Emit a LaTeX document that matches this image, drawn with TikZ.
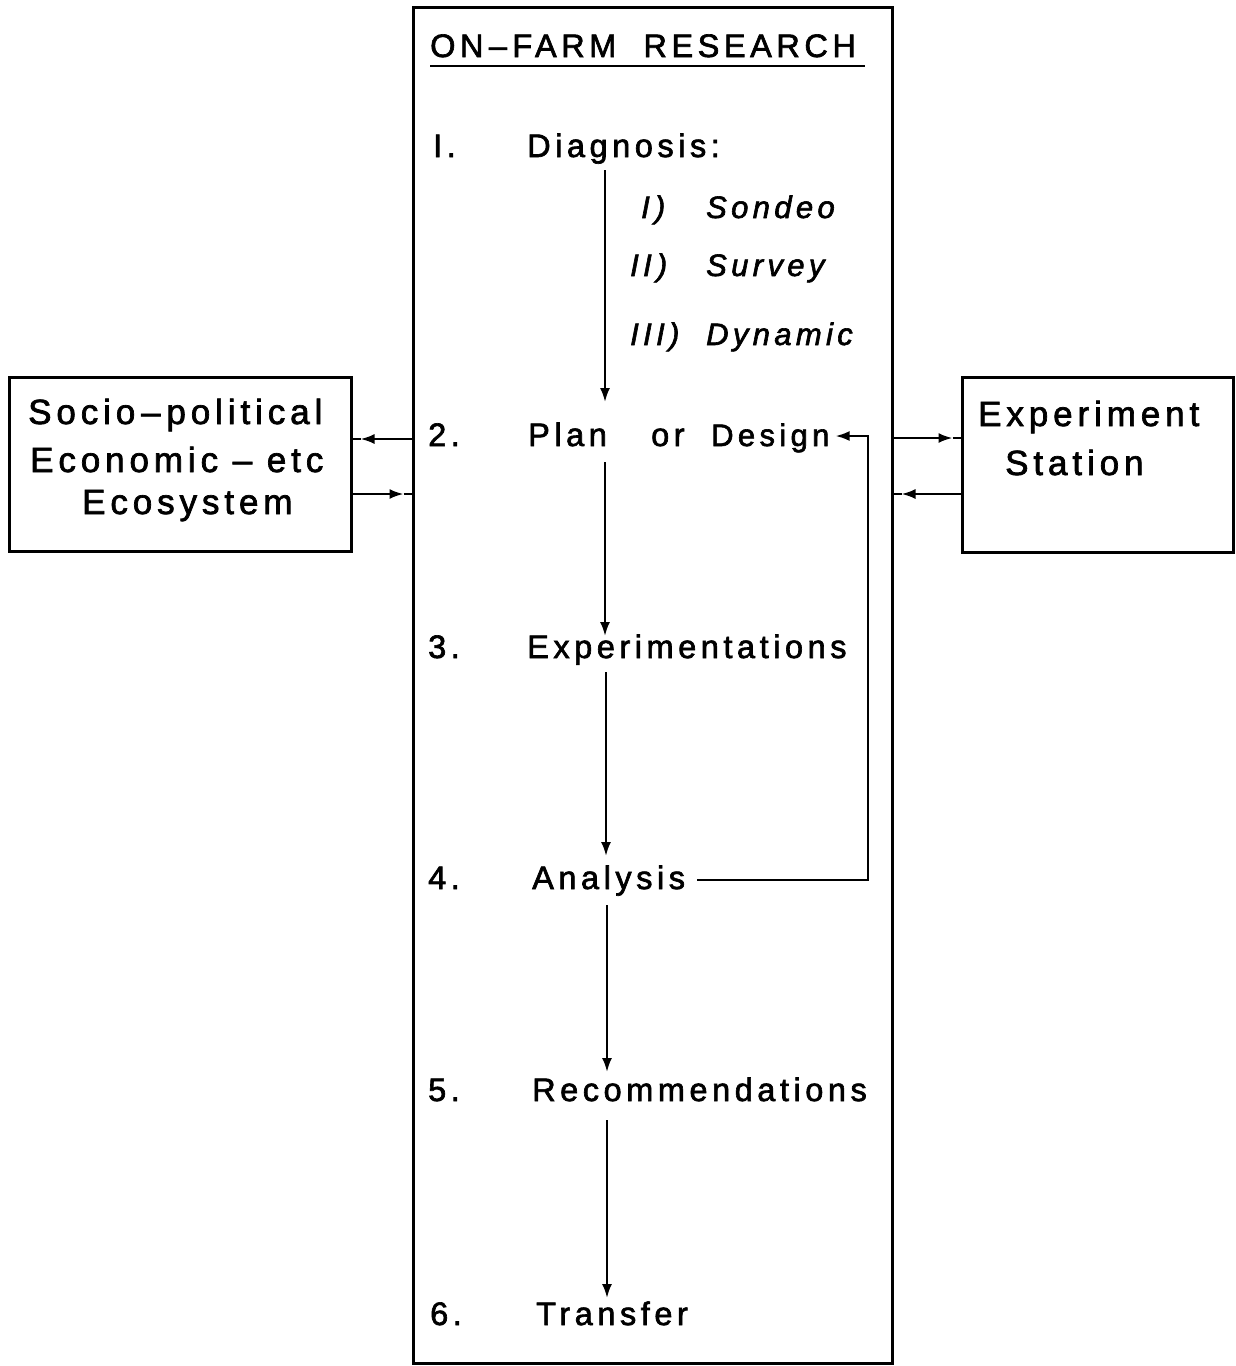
\documentclass[tikz,border=0pt]{standalone}
\usepackage{fontspec}
\setmainfont{Liberation Sans}[LetterSpace=14,FakeBold=2]
\usetikzlibrary{arrows.meta}
\begin{document}
\begin{tikzpicture}[x=1pt,y=-1pt,
  txt/.style={anchor=base west, inner sep=0pt, font=\fontsize{32.5}{38}\selectfont},
  stxt/.style={anchor=base west, inner sep=0pt, font=\fontsize{35}{40}\selectfont},
  itxt/.style={anchor=base west, inner sep=0pt, font=\fontsize{31}{36}\selectfont\itshape},
  box/.style={draw, line width=3pt, inner sep=0pt},
  conn/.style={line width=2.2pt},
  arr/.style={conn, -{Latex[length=14pt,width=10pt]}}]
\useasboundingbox (0,0) rectangle (1235,1366);
% boxes
\node[box, minimum width=479pt, minimum height=1356pt] (main) at (652.5,685) {};
\node[box, minimum width=342pt, minimum height=174pt] (soc) at (180,464) {};
\node[box, minimum width=271pt, minimum height=175pt] (exp) at (1097.5,464.5) {};
% title
\node[txt] (title) at (430,57) {ON\,--\,FARM\ \ RESEARCH};
\draw[conn] (430,66) -- (865,66);
% steps
\node[txt] (n1) at (433,157) {I.};
\node[txt] (diag) at (527,157) {Diagnosis:};
\node[itxt] (r1) at (641,218) {I\,)};
\node[itxt] (sond) at (706,218) {Sondeo};
\node[itxt] (r2) at (630,276) {II\,)};
\node[itxt] (surv) at (706,276) {Survey};
\node[itxt] (r3) at (630,345) {III)};
\node[itxt] (dyn) at (706,345) {Dynamic};
\node[txt] (n2) at (428,446) {2.};
\node[txt] (plan) at (528,446) {Plan};
\node[txt] (or) at (651,446) {or};
\node[txt, font=\fontsize{31}{36}\selectfont] (design) at (711,446) {Design};
\node[txt] (n3) at (428,658) {3.};
\node[txt] (expm) at (527,658) {Experimentations};
\node[txt] (n4) at (428,889) {4.};
\node[txt] (anal) at (532,889) {Analysis};
\node[txt] (n5) at (428,1101) {5.};
\node[txt] (rec) at (532,1101) {Recommendations};
\node[txt] (n6) at (430,1325) {6.};
\node[txt] (tran) at (536,1325) {Transfer};
% left box text
\node[stxt] (s1) at (28,424) {Socio\,--\,political};
\node[stxt] (s2) at (30,472) {Economic\ --\ etc};
\node[stxt] (s3) at (82,514) {Ecosystem};
% right box text
\node[stxt] (e1) at (978,426) {Experiment};
\node[stxt] (e2) at (1005,475) {Station};
% column coordinates
\coordinate (a1s) at (605,170); \coordinate (a1e) at (605,402);
\coordinate (a2s) at (605,462); \coordinate (a2e) at (605,636);
\coordinate (a3s) at (606,672); \coordinate (a3e) at (606,856);
\coordinate (a4s) at (607,905); \coordinate (a4e) at (607,1072);
\coordinate (a5s) at (607,1120); \coordinate (a5e) at (607,1298);
\draw[arr] (a1s) -- (a1e);
\draw[arr] (a2s) -- (a2e);
\draw[arr] (a3s) -- (a3e);
\draw[arr] (a4s) -- (a4e);
\draw[arr] (a5s) -- (a5e);
% feedback loop
\coordinate (fb) at (868,0);
\draw[arr] ([xshift=12pt]anal.east |- 0,880) -- (fb |- 0,880) -- (fb |- 0,436) -- ([xshift=6pt]design.east |- 0,436);
% side connectors
\draw[arr] (main.west |- 0,439) -- ([xshift=8pt]soc.east |- 0,439);
\draw[conn] (soc.east |- 0,439) -- ([xshift=8pt]soc.east |- 0,439);
\draw[arr] (soc.east |- 0,494) -- ([xshift=-8pt]main.west |- 0,494);
\draw[conn] ([xshift=-8pt]main.west |- 0,494) -- (main.west |- 0,494);
\draw[arr] (main.east |- 0,438) -- ([xshift=-8pt]exp.west |- 0,438);
\draw[conn] ([xshift=-8pt]exp.west |- 0,438) -- (exp.west |- 0,438);
\draw[arr] (exp.west |- 0,494) -- ([xshift=8pt]main.east |- 0,494);
\draw[conn] ([xshift=8pt]main.east |- 0,494) -- (main.east |- 0,494);
\end{tikzpicture}
\end{document}
